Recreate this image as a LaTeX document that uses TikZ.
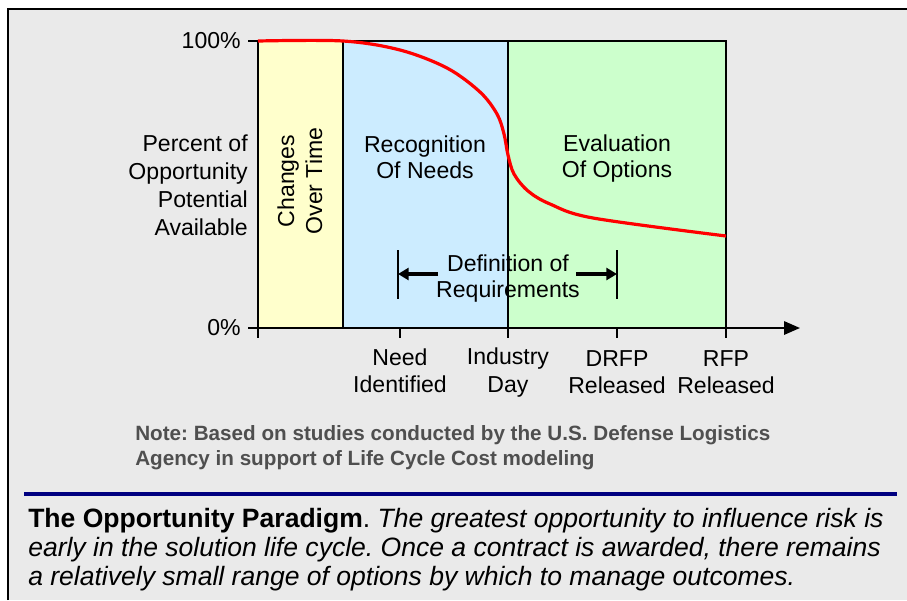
\documentclass[tikz,border=0pt]{standalone}
\usepackage{fontspec}
\setmainfont{Liberation Sans}
\usetikzlibrary{arrows.meta}
\frenchspacing
\definecolor{bgc}{HTML}{EAEAEA}
\definecolor{yband}{HTML}{FFFFCC}
\definecolor{bband}{HTML}{CCECFF}
\definecolor{gband}{HTML}{CCFFCC}
\definecolor{notegray}{HTML}{4F4F4F}
\definecolor{navyline}{HTML}{000080}
\tikzset{
  band/.style={draw=black, line width=0.8pt},
  axisline/.style={line width=1.6pt, black},
  tickline/.style={line width=1.4pt, black},
  graphtxt/.style={font=\fontsize{17.3}{20}\selectfont, align=center, inner sep=0pt},
  curve/.style={line width=2.4pt, red, line join=round},
  defbar/.style={line width=2pt, black},
  defarrow/.style={line width=2.6pt, black, -{Triangle[length=8pt,width=9pt]}},
}
\begin{document}
\begin{tikzpicture}[x=0.75pt, y=-0.75pt]
\useasboundingbox (0,0) rectangle (907,600);
\fill[white] (0,0) rectangle (907,600);
\fill[bgc] (8,9) rectangle (907,600);
\draw[line width=2pt, black] (8,600) -- (8,9) -- (907,9);
% bands
\filldraw[band, fill=yband] (258,41) rectangle (343,328);
\filldraw[band, fill=bband] (343,41) rectangle (508,328);
\filldraw[band, fill=gband] (508,41) rectangle (726,328);
% axes
\coordinate (o) at (258,328);
\coordinate (top) at (258,41);
\coordinate (xend) at (800,328);
\draw[axisline] (top) -- (o);
\draw[axisline, -{Triangle[length=12pt,width=10pt]}] (o) -- (xend);
\draw[tickline] (248,41) -- (top);
\draw[tickline] (248,328) -- (o);
\foreach \x in {258,400,508,617,726} \draw[tickline] (\x,328) -- (\x,338);
% curve
\draw[curve] plot[smooth, tension=0.55] coordinates {(258,41) (343,41) (400,50) (447,68) (480,92) (497,114) (504,134) (508,155) (514,174) (528,191) (550,204) (593,218) (726,236)};
% labels
\node[graphtxt, anchor=east] (p100) at (241,41) {100\%};
\node[graphtxt, anchor=east] (p0) at (241,328) {0\%};
\node[graphtxt, anchor=east, align=right, font=\fontsize{17.3}{21}\selectfont] (ylab) at (248,185) {Percent of\\Opportunity\\Potential\\Available};
\node[graphtxt, rotate=90, font=\fontsize{17.3}{21}\selectfont] (chg) at (300,181) {Changes\\Over Time};
\node[graphtxt, font=\fontsize{17.3}{19.5}\selectfont] (rec) at (425,157) {Recognition\\Of Needs};
\node[graphtxt, font=\fontsize{17.3}{19.5}\selectfont] (eval) at (617,159) {Evaluation\\Of Options};
\node[graphtxt, font=\fontsize{17.3}{19.5}\selectfont] (defn) at (508,279) {Definition of\\Requirements};
\coordinate (dl) at (398,274);
\coordinate (dr) at (617,274);
\draw[defbar] (398,250) -- (398,299);
\draw[defbar] (617,250) -- (617,299);
\draw[defarrow] (438,274) -- (dl);
\draw[defarrow] (576,274) -- (dr);
\node[graphtxt, font=\fontsize{17.3}{20.3}\selectfont] (need) at (400,371) {Need\\Identified};
\foreach \x/\n/\t in {508/ind/{Industry\\Day}, 617/drfp/{DRFP\\Released}, 726/rfp/{RFP\\Released}}
  \node[graphtxt, font=\fontsize{17.3}{20.3}\selectfont] (\n) at (\x,372.5) {\t};
% note
\node[anchor=west, align=left, inner sep=0pt, text=notegray, font=\fontsize{15.5}{18.8}\selectfont\bfseries] (note) at (135,448) {Note: Based on studies conducted by the U.S. Defense Logistics\\Agency in support of Life Cycle Cost modeling};
% separator
\draw[line width=2.6pt, navyline] (24,494) -- (897,494);
% caption
\node[anchor=north west, align=left, inner sep=0pt, font=\fontsize{19.9}{21.6}\selectfont] (cap) at (28,508) {\textbf{The Opportunity Paradigm}. \textit{The greatest opportunity to influence risk is}\\\textit{early in the solution life cycle. Once a contract is awarded, there remains}\\\textit{a relatively small range of options by which to manage outcomes.}};
\end{tikzpicture}
\end{document}
